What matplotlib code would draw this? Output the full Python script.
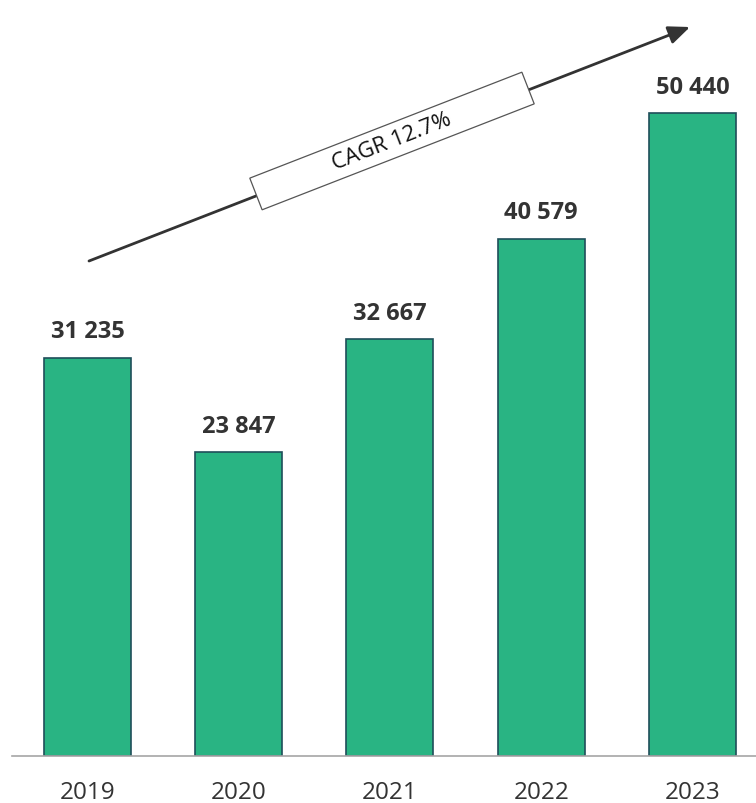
import numpy as np
import matplotlib.pyplot as plt
from matplotlib.patches import Polygon

plt.rcParams['font.family'] = ['Open Sans', 'DejaVu Sans']

# data
years = ['2019', '2020', '2021', '2022', '2023']
values = [31235, 23847, 32667, 40579, 50440]
cagr_label = 'CAGR 12.7%'

W, H = 756, 804
fig = plt.figure(figsize=(W / 100, H / 100), dpi=100)

# axes placed in pixel terms: baseline at y=757, left edge at x=12
base_px = 757
ax = fig.add_axes([12 / W, (H - base_px) / H, 1 - 12 / W, base_px / H])
px_per_unit = 12.75 / 1000
ax.set_ylim(0, base_px / px_per_unit)
ax.set_xlim(-0.499, 4.42)

x = np.arange(len(years))
ax.bar(x, values, width=0.575, color='#29b483', edgecolor='#1f4e5a', linewidth=1.2, zorder=2)

for xi, v in zip(x, values):
    label = f'{v:,}'.replace(',', ' ')
    ax.annotate(label, (xi, v), xytext=(0, 19), textcoords='offset points',
                ha='center', va='center', fontsize=17, fontweight='bold', color='#333333')

ax.set_xticks(x)
ax.set_xticklabels(years, fontsize=17.5, color='#333333')
ax.tick_params(axis='x', length=0, pad=17)
ax.set_yticks([])
for s in ['top', 'right', 'left']:
    ax.spines[s].set_visible(False)
ax.spines['bottom'].set_color('#a6a6a6')
ax.spines['bottom'].set_linewidth(1.2)


def fig_pt(px, py):
    return (px / W, (H - py) / H)


# trend arrow
ax.annotate('', xy=fig_pt(690, 28), xytext=fig_pt(89, 262),
            xycoords='figure fraction', textcoords='figure fraction',
            arrowprops=dict(arrowstyle='-|>,head_length=1.3,head_width=0.55',
                            color='#333333', lw=2, shrinkA=0, shrinkB=0))

# rotated box with label
cx, cy = 392, 142
ang = np.arctan2(262 - 28, 690 - 89)
ux, uy = np.cos(ang), -np.sin(ang)
nx, ny = np.sin(ang), np.cos(ang)
hl, hh = 146, 17
corners = [(cx - hl * ux - hh * nx, cy - hl * uy - hh * ny),
           (cx + hl * ux - hh * nx, cy + hl * uy - hh * ny),
           (cx + hl * ux + hh * nx, cy + hl * uy + hh * ny),
           (cx - hl * ux + hh * nx, cy - hl * uy + hh * ny)]
box = Polygon([fig_pt(*c) for c in corners], closed=True, transform=fig.transFigure,
              facecolor='white', edgecolor='#555555', linewidth=0.9, zorder=5)
fig.patches.append(box)
fig.text(*fig_pt(cx, cy), cagr_label, rotation=np.degrees(ang), rotation_mode='anchor',
         ha='center', va='center', fontsize=16, color='#111111', zorder=6)

fig.savefig('out.png', dpi=100)
